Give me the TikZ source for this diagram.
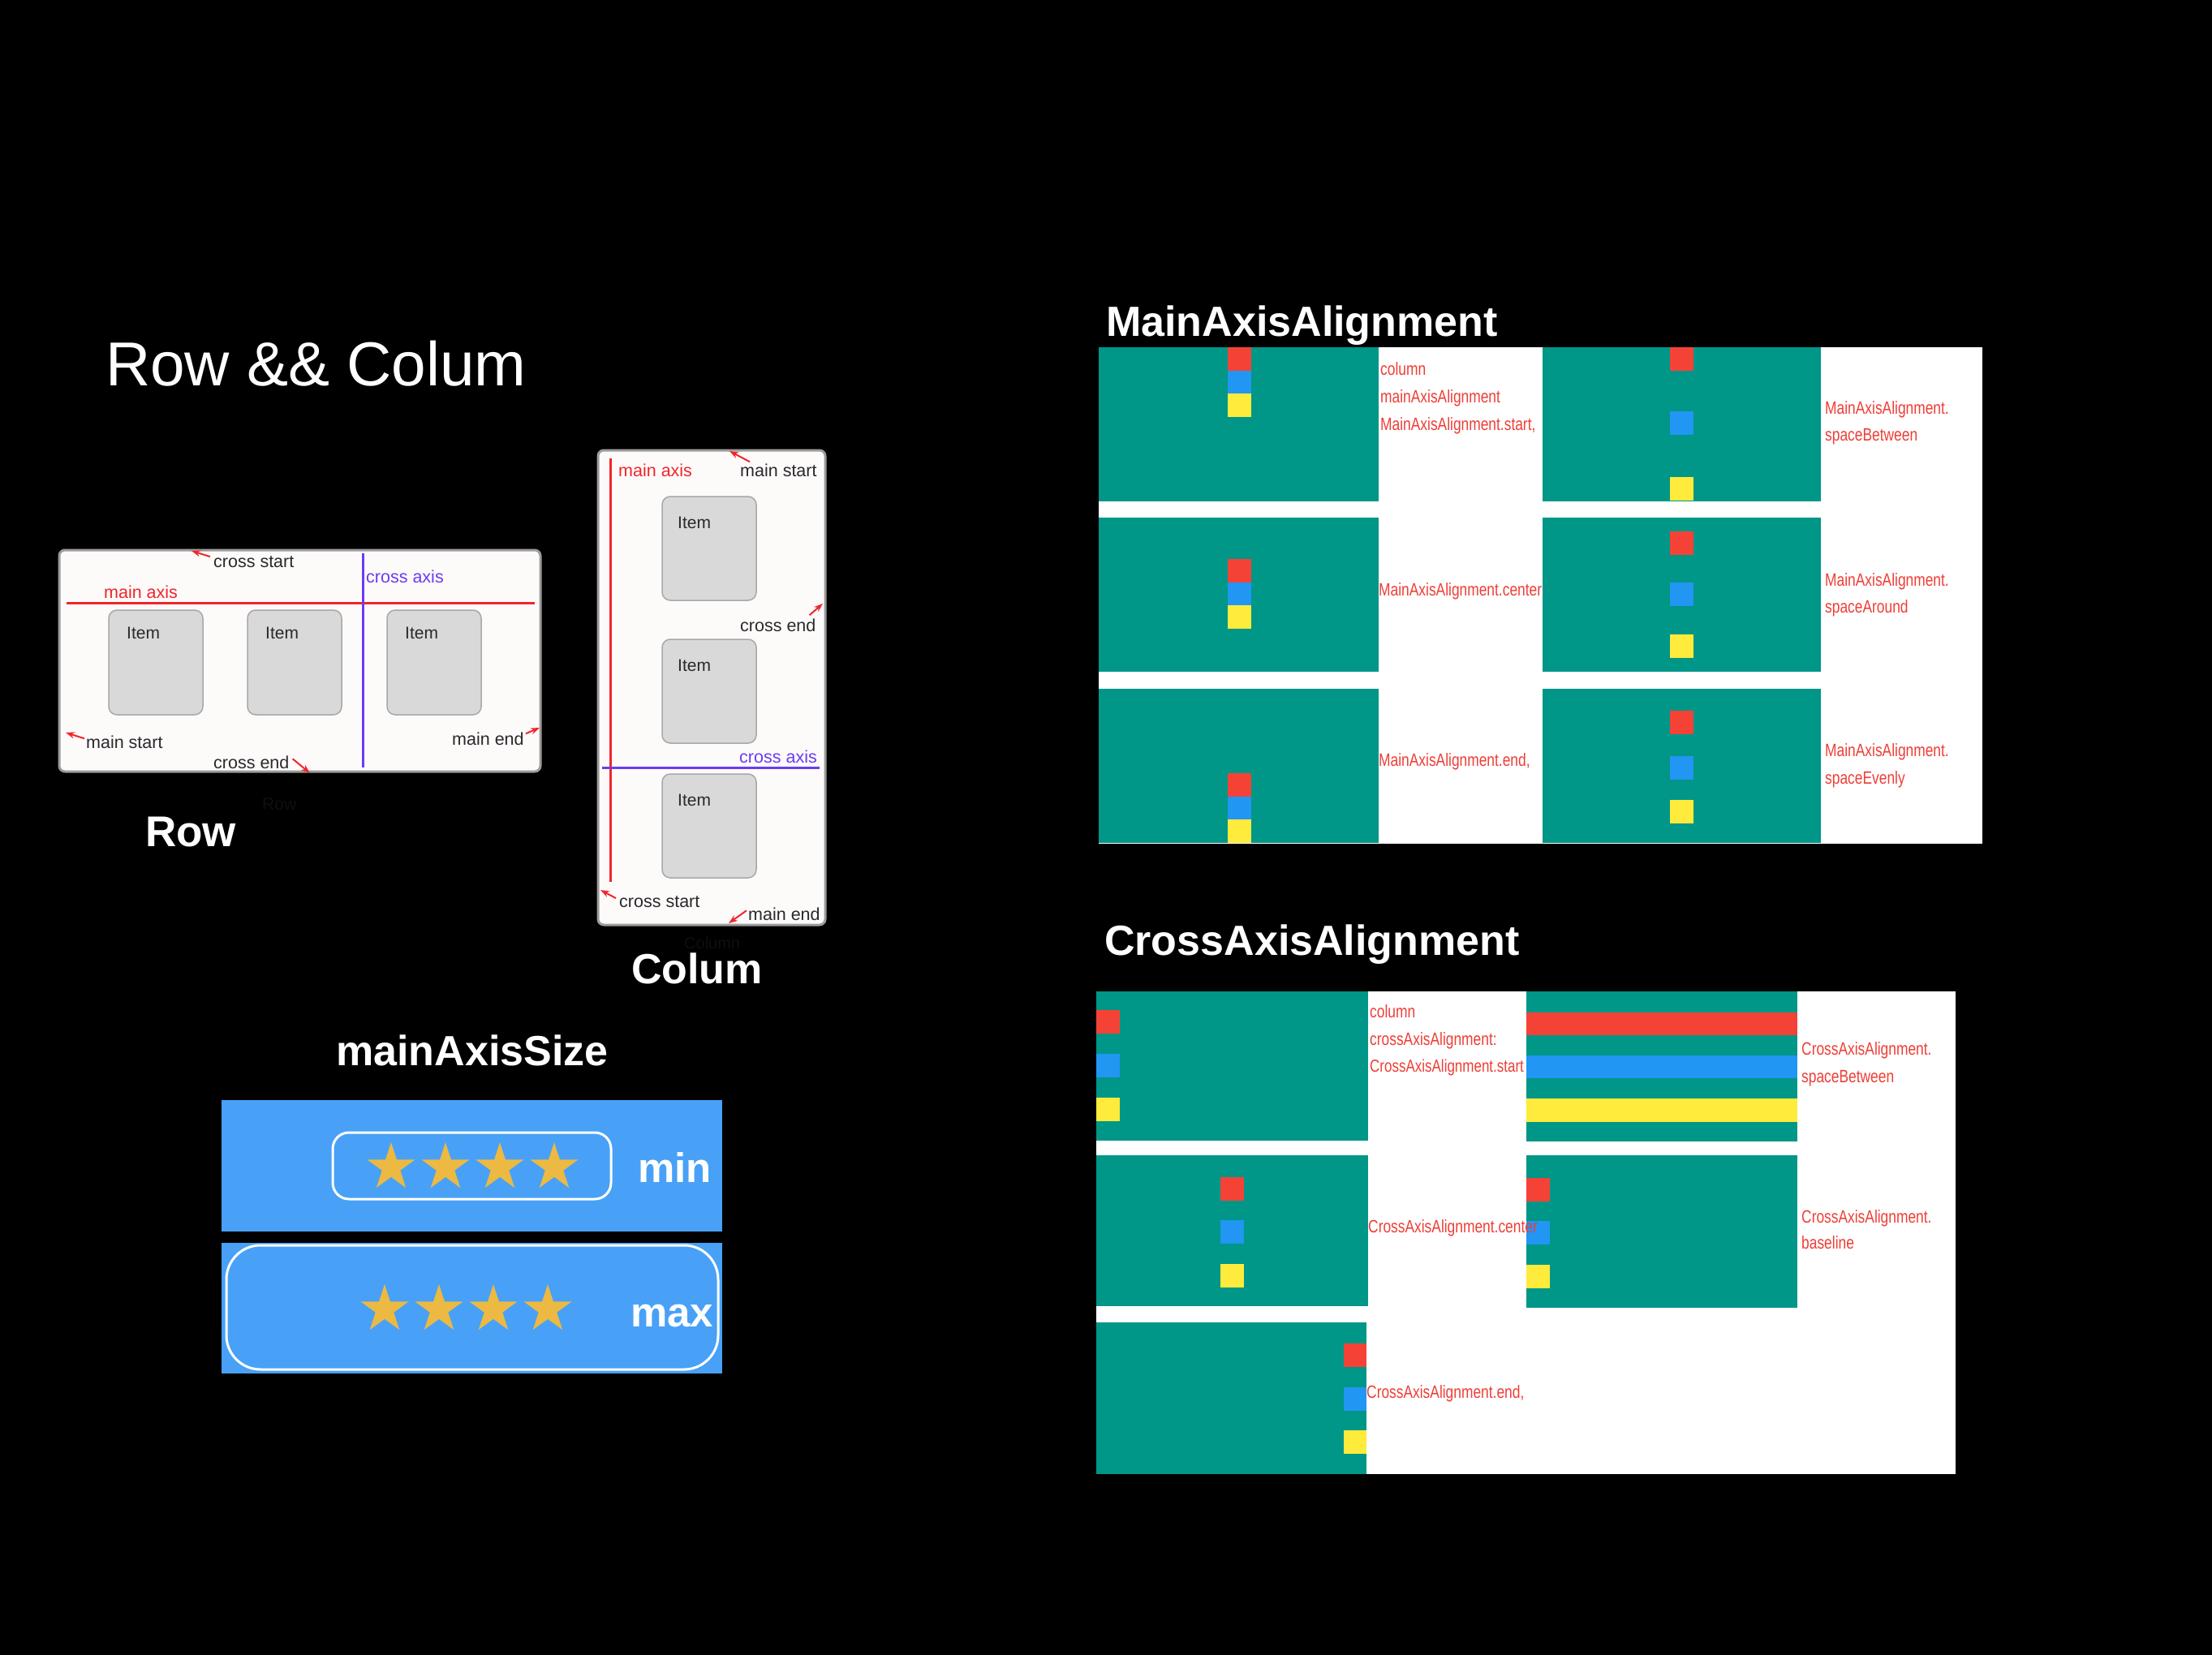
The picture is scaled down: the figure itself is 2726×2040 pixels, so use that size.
\documentclass[tikz,border=0pt]{standalone}
\usepackage{fontspec}
\setmainfont{Liberation Sans}
\newfontfamily\narrowfont{Liberation Sans}[FakeStretch=0.79]
\usetikzlibrary{arrows.meta}

\definecolor{mdteal}{HTML}{009688}
\definecolor{mdred}{HTML}{F44336}
\definecolor{mdblue}{HTML}{2196F3}
\definecolor{mdyellow}{HTML}{FFEB3B}
\definecolor{axisred}{HTML}{F0262C}
\definecolor{axispurple}{HTML}{6A3CF4}
\definecolor{lblred}{HTML}{EE3E36}
\definecolor{panelfill}{HTML}{FDFAFA}
\definecolor{panelline}{HTML}{9C9C9C}
\definecolor{itemfill}{HTML}{D9D9D9}
\definecolor{itemline}{HTML}{A8A8A8}
\definecolor{skyblue}{HTML}{48A1F6}
\definecolor{stargold}{HTML}{ECB942}
\definecolor{faint}{HTML}{0C1013}
\definecolor{inktxt}{HTML}{2A2A2A}

\tikzset{
  txt/.style={inner sep=0pt, anchor=base west},
  paneltxt/.style={txt, text=inktxt, font=\fontsize{21.5}{24}\selectfont},
  redtxt/.style={paneltxt, text=axisred},
  purpletxt/.style={paneltxt, text=axispurple},
  itemtxt/.style={txt, text=inktxt, font=\fontsize{21}{24}\selectfont},
  head/.style={txt, text=white, font=\bfseries\fontsize{52}{56}\selectfont},
  lbl/.style={txt, text=lblred, font=\narrowfont\fontsize{22}{24}\selectfont},
  ptr/.style={draw=axisred, line width=2pt, -{Stealth[length=11pt,width=8pt]}},
  panel/.style={fill=panelfill, draw=panelline, line width=3pt, rounded corners=7pt},
  itembox/.style={fill=itemfill, draw=itemline, line width=1.5pt, rounded corners=10pt},
  axisline/.style={line width=3pt},
}

% five-pointed star centred at (#1,#2)
\newcommand\goldstar[2]{%
  \fill[stargold, shift={(#1,#2)}] (-90:31) -- (-54:11.85) -- (-18:31) -- (18:11.85)
    -- (54:31) -- (90:11.85) -- (126:31) -- (162:11.85) -- (198:31) -- (234:11.85) -- cycle;}
% one coloured square of the alignment demos: x, top, fill
\newcommand\demosq[3]{\fill[#3] (#1,#2) rectangle ++(28.5,28.5);}

\begin{document}
\begin{tikzpicture}[x=1pt, y=-1pt]
\path[use as bounding box, fill=black] (0,0) rectangle (2726,2040);

% ---------------- title ----------------
\node[txt, text=white, font=\fontsize{76.5}{80}\selectfont] (title) at (130,475) {Row \&\& Colum};

% ---------------- Row panel ----------------
\draw[panel] (73,678) rectangle (666,951);
\draw[axisline, axisred] (82,743) -- (659,743);
\draw[axisline, axispurple] (447,682) -- (447,946);
\node[redtxt] (rmainaxis) at (128,737) {main axis};
\node[purpletxt] (rcrossaxis) at (451,718) {cross axis};
\foreach \x [count=\i] in {134,305,477}{
  \draw[itembox] (\x,752) rectangle ++(116,129);
  \node[itemtxt] (ritem\i) at (\x+22,787) {Item};
}
\node[paneltxt] (rcs) at (263,699) {cross start};
\node[paneltxt] (rms) at (106,922) {main start};
\node[paneltxt] (rme) at (557,918) {main end};
\node[paneltxt] (rce) at (263,947) {cross end};
\coordinate (rcsT) at (236,679);
\coordinate (rmsT) at (81,903);
\coordinate (rmeT) at (665,897);
\coordinate (rceT) at (382,953);
\draw[ptr] (rcs.west) ++(-4,-6) -- (rcsT);
\draw[ptr] (rms.west) ++(-2,-4) -- (rmsT);
\draw[ptr] (rme.east) ++(2,-6) -- (rmeT);
\draw[ptr] (rce.east) ++(4,-4) -- (rceT);
\node[txt, text=faint, font=\fontsize{21}{24}\selectfont] (rowfaint) at (323,998) {Row};
\node[head, font=\bfseries\fontsize{53}{56}\selectfont] (rowhead) at (179,1043) {Row};

% ---------------- Column panel ----------------
\draw[panel] (737,555) rectangle (1017,1140);
\draw[axisline, axisred] (752,565) -- (752,1087);
\draw[axisline, axispurple] (742,946) -- (1010,946);
\node[redtxt] (cmainaxis) at (762,587) {main axis};
\node[purpletxt, anchor=base east] (ccrossaxis) at (1007,940) {cross axis};
\foreach \y [count=\i] in {612,788,954}{
  \draw[itembox] (816,\y) rectangle ++(116,128);
  \node[itemtxt] (citem\i) at (835,\y+39) {Item};
}
\node[paneltxt] (cms) at (912,587) {main start};
\node[paneltxt] (cce) at (912,778) {cross end};
\node[paneltxt] (ccs) at (763,1118) {cross start};
\node[paneltxt] (cme) at (922,1134) {main end};
\coordinate (cmsT) at (899,556);
\coordinate (cceT) at (1014,744);
\coordinate (ccsT) at (740,1097);
\coordinate (cmeT) at (898,1138);
\draw[ptr] (cms.north west) ++(12,-2) -- (cmsT);
\draw[ptr] (cce.north east) ++(-8,-4) -- (cceT);
\draw[ptr] (ccs.west) ++(-4,-4) -- (ccsT);
\draw[ptr] (cme.west) ++(-2,-4) -- (cmeT);
\node[txt, text=faint, font=\fontsize{20}{22}\selectfont] (colfaint) at (843,1169) {Column};
\node[head] (colhead) at (778,1212) {Colum};

% ---------------- mainAxisSize ----------------
\node[head] (sizehead) at (414,1313) {mainAxisSize};
\fill[skyblue] (273,1356) rectangle (890,1518);
\fill[skyblue] (273,1532) rectangle (890,1693);
\draw[white, line width=3pt, rounded corners=20pt] (410,1396) rectangle (753,1478);
\draw[white, line width=3pt, rounded corners=42pt] (279,1535) rectangle (885,1688);
\foreach \x in {482,549,616,683}{\goldstar{\x}{1439}}
\foreach \x in {474,541,608,675}{\goldstar{\x}{1614}}
\node[head, font=\bfseries\fontsize{51}{56}\selectfont] (minlbl) at (786,1457) {min};
\node[head, font=\bfseries\fontsize{51}{56}\selectfont] (maxlbl) at (777,1635) {max};

% ---------------- MainAxisAlignment ----------------
\node[head] (mainhead) at (1363,414) {MainAxisAlignment};
\fill[white] (1354,428) rectangle (2443,1040);
\foreach \y in {428,638,849}{
  \fill[mdteal] (1354,\y) rectangle (1699,\y+190);
  \fill[mdteal] (1901,\y) rectangle (2244,\y+190);
}
% start
\demosq{1513}{428}{mdred}\demosq{1513}{456.5}{mdblue}\demosq{1513}{485}{mdyellow}
% spaceBetween
\demosq{2058}{428}{mdred}\demosq{2058}{507}{mdblue}\demosq{2058}{588}{mdyellow}
% center
\demosq{1513}{689}{mdred}\demosq{1513}{717.5}{mdblue}\demosq{1513}{746}{mdyellow}
% spaceAround
\demosq{2058}{655}{mdred}\demosq{2058}{718}{mdblue}\demosq{2058}{782}{mdyellow}
% end
\demosq{1513}{953}{mdred}\demosq{1513}{981.5}{mdblue}\demosq{1513}{1010}{mdyellow}
% spaceEvenly
\demosq{2058}{876}{mdred}\demosq{2058}{932}{mdblue}\demosq{2058}{986}{mdyellow}

\node[lbl] (ma1) at (1701,462) {column};
\node[lbl] (ma2) at (1701,496) {mainAxisAlignment};
\node[lbl] (ma3) at (1701,530) {MainAxisAlignment.start,};
\node[lbl] (ma4) at (2249,510) {MainAxisAlignment.};
\node[lbl] (ma5) at (2249,543) {spaceBetween};
\node[lbl] (ma6) at (1699,734) {MainAxisAlignment.center};
\node[lbl] (ma7) at (2249,722) {MainAxisAlignment.};
\node[lbl] (ma8) at (2249,755) {spaceAround};
\node[lbl] (ma9) at (1699,944) {MainAxisAlignment.end,};
\node[lbl] (ma10) at (2249,932) {MainAxisAlignment.};
\node[lbl] (ma11) at (2249,966) {spaceEvenly};

% ---------------- CrossAxisAlignment ----------------
\node[head] (crosshead) at (1361,1177) {CrossAxisAlignment};
\fill[white] (1351,1222) rectangle (2410,1817);
\fill[mdteal] (1351,1222) rectangle (1686,1406);
\fill[mdteal] (1881,1222) rectangle (2215,1407);
\fill[mdteal] (1351,1424) rectangle (1686,1610);
\fill[mdteal] (1881,1424) rectangle (2215,1612);
\fill[mdteal] (1351,1630) rectangle (1684,1817);
% start
\demosq{1351}{1245}{mdred}\demosq{1351}{1299}{mdblue}\demosq{1351}{1353}{mdyellow}
% stretch
\fill[mdred] (1881,1248) rectangle (2215,1276);
\fill[mdblue] (1881,1301) rectangle (2215,1329);
\fill[mdyellow] (1881,1354) rectangle (2215,1383);
% center
\demosq{1504}{1451}{mdred}\demosq{1504}{1504}{mdblue}\demosq{1504}{1558}{mdyellow}
% baseline
\demosq{1881}{1452}{mdred}\demosq{1881}{1505}{mdblue}\demosq{1881}{1559}{mdyellow}
% end
\demosq{1655.5}{1656}{mdred}\demosq{1655.5}{1710}{mdblue}\demosq{1655.5}{1763}{mdyellow}

\node[lbl] (ca1) at (1688,1254) {column};
\node[lbl] (ca2) at (1688,1288) {crossAxisAlignment:};
\node[lbl, font=\narrowfont\fontsize{21.5}{24}\selectfont] (ca3) at (1688,1321) {CrossAxisAlignment.start};
\node[lbl] (ca4) at (2220,1300) {CrossAxisAlignment.};
\node[lbl] (ca5) at (2220,1334) {spaceBetween};
\node[lbl] (ca6) at (1686,1519) {CrossAxisAlignment.center};
\node[lbl] (ca7) at (2220,1507) {CrossAxisAlignment.};
\node[lbl] (ca8) at (2220,1539) {baseline};
\node[lbl] (ca9) at (1684,1723) {CrossAxisAlignment.end,};
\end{tikzpicture}
\end{document}
